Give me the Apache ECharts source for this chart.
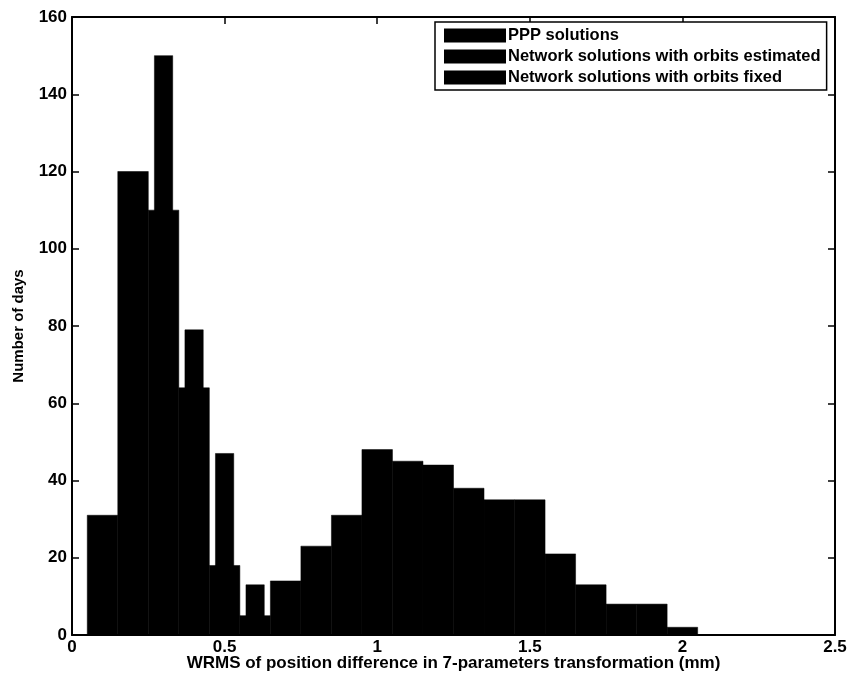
<!DOCTYPE html>
<html>
<head>
<meta charset="utf-8">
<script src="https://cdn.jsdelivr.net/npm/echarts@6/dist/echarts.min.js"></script>
<style>
  html, body { margin: 0; padding: 0; background: #fff; }
  #chart { width: 851px; height: 683px; }
</style>
</head>
<body>
<div id="chart"></div>
<script>
// Histogram of WRMS values (mm), number of days per bin
const seriesNames = [
  'PPP solutions',
  'Network solutions with orbits estimated',
  'Network solutions with orbits fixed'
];

// bin centres and counts for each solution type
const pppCenters = [0.7, 0.8, 0.9, 1.0, 1.1, 1.2, 1.3, 1.4, 1.5, 1.6, 1.7, 1.8, 1.9, 2.0];
const pppCounts = [14, 23, 31, 48, 45, 44, 38, 35, 35, 21, 13, 8, 8, 2];

const estimatedCenters = [0.1, 0.2, 0.3, 0.4, 0.5, 0.6];
const estimatedCounts = [31, 120, 110, 64, 18, 5];

const fixedCenters = [0.3, 0.4, 0.5, 0.6];
const fixedCounts = [150, 79, 47, 13];

const xTicks = [0, 0.5, 1, 1.5, 2, 2.5];
const yTicks = [0, 20, 40, 60, 80, 100, 120, 140, 160];

// bar widths in data units
const WIDE = 0.1;
const NARROW = 0.06;

const FONT = '"Liberation Sans", Arial, sans-serif';

function pairs(xs, ys) { return xs.map((x, i) => [x, ys[i]]); }

function barRenderer(width) {
  return function (params, api) {
    const c = api.value(0);
    const v = api.value(1);
    const p0 = api.coord([c - width / 2, v]);
    const p1 = api.coord([c + width / 2, 0]);
    return {
      type: 'rect',
      shape: { x: p0[0], y: p0[1], width: p1[0] - p0[0], height: p1[1] - p0[1] },
      style: { fill: '#000', stroke: '#000', lineWidth: 0.5 }
    };
  };
}

function histSeries(name, xs, ys, width) {
  return {
    type: 'custom',
    name: name,
    xAxisIndex: 0,
    yAxisIndex: 0,
    itemStyle: { color: '#000' },
    renderItem: barRenderer(width),
    encode: { x: 0, y: 1 },
    data: pairs(xs, ys),
    z: 2
  };
}

const chart = echarts.init(document.getElementById('chart'), null, { renderer: 'canvas' });

const tickStyle = { show: true, inside: true, length: 7, lineStyle: { color: '#000', width: 1.5 } };
const lineStyle = { show: true, onZero: false, lineStyle: { color: '#000', width: 2 } };
const labelStyle = { color: '#000', fontFamily: FONT, fontWeight: 'bold', fontSize: 17 };

chart.setOption({
  backgroundColor: '#fff',
  animation: false,
  grid: { left: 72, right: 16, top: 17, bottom: 48, show: false },
  legend: {
    data: seriesNames,
    orient: 'vertical',
    left: 435,
    top: 22,
    itemWidth: 62,
    itemHeight: 14,
    itemGap: 4,
    icon: 'rect',
    padding: [5, 6, 4, 9],
    backgroundColor: '#fff',
    borderColor: '#000',
    borderWidth: 1.5,
    borderRadius: 0,
    selectedMode: false,
    textStyle: { color: '#000', fontFamily: FONT, fontWeight: 'bold', fontSize: 16.5, padding: [0, 0, 0, -3] }
  },
  xAxis: [
    {
      type: 'value', min: 0, max: 2.5, interval: 0.5, position: 'bottom',
      name: 'WRMS of position difference in 7-parameters transformation (mm)',
      nameLocation: 'middle', nameGap: 20, nameMoveOverlap: false,
      nameTextStyle: { color: '#000', fontFamily: FONT, fontWeight: 'bold', fontSize: 17 },
      axisLine: lineStyle, axisTick: tickStyle,
      axisLabel: Object.assign({ margin: 4, formatter: v => xTicks.includes(v) ? String(v) : '' }, labelStyle),
      splitLine: { show: false }
    },
    {
      type: 'value', min: 0, max: 2.5, interval: 0.5, position: 'top',
      axisLine: lineStyle, axisTick: tickStyle, axisLabel: { show: false }, splitLine: { show: false }
    }
  ],
  yAxis: [
    {
      type: 'value', min: 0, max: 160, interval: 20, position: 'left',
      name: 'Number of days', nameLocation: 'middle', nameGap: 46, nameRotate: 90,
      nameTextStyle: { color: '#000', fontFamily: FONT, fontWeight: 'bold', fontSize: 15 },
      axisLine: lineStyle, axisTick: tickStyle,
      axisLabel: Object.assign({ margin: 5, formatter: v => yTicks.includes(v) ? String(v) : '' }, labelStyle),
      splitLine: { show: false }
    },
    {
      type: 'value', min: 0, max: 160, interval: 20, position: 'right',
      axisLine: lineStyle, axisTick: tickStyle, axisLabel: { show: false }, splitLine: { show: false }
    }
  ],
  series: [
    histSeries(seriesNames[0], pppCenters, pppCounts, WIDE),
    histSeries(seriesNames[1], estimatedCenters, estimatedCounts, WIDE),
    histSeries(seriesNames[2], fixedCenters, fixedCounts, NARROW)
  ]
});
</script>
</body>
</html>
